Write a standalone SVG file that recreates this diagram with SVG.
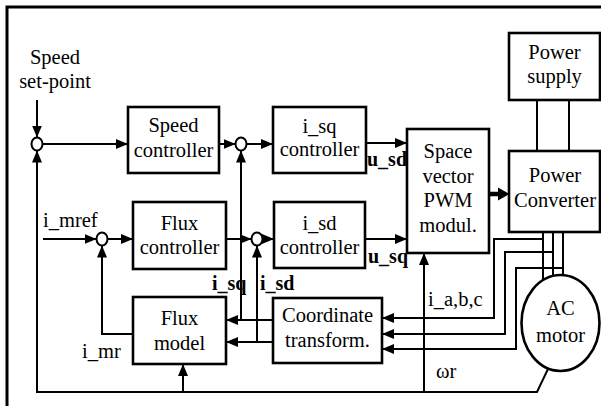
<svg xmlns="http://www.w3.org/2000/svg" width="601" height="406" viewBox="0 0 601 406" font-family="'Liberation Serif', 'Times New Roman', serif">
<defs>
<marker id="ah" viewBox="0 0 12 10" refX="12" refY="5" markerWidth="12" markerHeight="10" markerUnits="userSpaceOnUse" orient="auto">
<path d="M0,0 L12,5 L0,10 Z" fill="#000"/>
</marker>
</defs>
<style>
.box{fill:#fff;stroke:#000;stroke-width:2.6}
.sum{fill:#fff;stroke:#000;stroke-width:2}
.ln{fill:none;stroke:#000;stroke-width:2}
.arr{fill:none;stroke:#000;stroke-width:2;marker-end:url(#ah)}
text{font-family:'Liberation Serif','Times New Roman',serif;font-size:20.5px;fill:#000}
.c{text-anchor:middle}
.b{font-weight:bold;font-size:20px}
</style>
<rect width="601" height="406" fill="#fff"/>
<path d="M7,406 V7 H601" fill="none" stroke="#000" stroke-width="3"/>

<g id="connectors">
<line class="arr" x1="37" y1="100" x2="37" y2="137.5"/>
<line class="arr" x1="42.5" y1="144" x2="128" y2="144"/>
<line class="arr" x1="219" y1="144" x2="235.5" y2="144"/>
<line class="arr" x1="246.5" y1="144" x2="273" y2="144"/>
<line class="arr" x1="366" y1="143" x2="407" y2="143"/>
<line x1="489" y1="194" x2="500" y2="194" stroke="#000" stroke-width="4.5"/>
<path d="M498,187.5 L509.5,194 L498,200.5 Z" fill="#000"/>
<line class="ln" x1="537" y1="100" x2="537" y2="151"/>
<line class="ln" x1="569" y1="100" x2="569" y2="151"/>
<line class="ln" x1="543" y1="232" x2="543" y2="280"/>
<line class="ln" x1="553" y1="232" x2="553" y2="276"/>
<line class="ln" x1="563" y1="232" x2="563" y2="275"/>
<path class="arr" d="M543,239 H494 V318 H382"/>
<path class="arr" d="M553,252 H505 V334 H382"/>
<path class="arr" d="M563,268 H516 V349 H382"/>
<line class="arr" x1="43" y1="239" x2="96.5" y2="239"/>
<line class="arr" x1="107.5" y1="239" x2="133" y2="239"/>
<line class="arr" x1="226" y1="239" x2="251.5" y2="239"/>
<line class="arr" x1="262.5" y1="239" x2="274" y2="239"/>
<line class="arr" x1="365" y1="239" x2="407" y2="239"/>
<line class="arr" x1="273" y1="320" x2="226" y2="320"/>
<line class="arr" x1="241" y1="320" x2="241" y2="150.5"/>
<line class="arr" x1="273" y1="342" x2="226" y2="342"/>
<line class="arr" x1="257" y1="342" x2="257" y2="245.5"/>
<path class="arr" d="M133,334 H102 V245.5"/>
<path class="arr" d="M548,369 L537,392 H37 V150.5"/>
<line class="arr" x1="183" y1="392" x2="183" y2="364"/>
<line class="arr" x1="424" y1="392" x2="424" y2="253"/>
</g>

<g id="sum1"><ellipse class="sum" cx="37" cy="144" rx="5.5" ry="6.5"/></g>
<g id="sum2"><ellipse class="sum" cx="241" cy="144" rx="5.5" ry="6.5"/></g>
<g id="sum3"><ellipse class="sum" cx="102" cy="239" rx="5.5" ry="6.5"/></g>
<g id="sum4"><ellipse class="sum" cx="257" cy="239" rx="5.5" ry="6.5"/></g>

<g id="speed-setpoint">
<text class="c" x="55" y="64">Speed</text>
<text class="c" x="55" y="88">set-point</text>
</g>
<g id="speed-controller">
<rect class="box" x="128" y="107" width="91" height="66"/>
<text class="c" x="173.5" y="132">Speed</text>
<text class="c" x="173.5" y="156.5">controller</text>
</g>
<g id="isq-controller">
<rect class="box" x="273" y="107" width="93" height="66"/>
<text class="c" x="319.5" y="133">i_sq</text>
<text class="c" x="319.5" y="156">controller</text>
</g>
<g id="svpwm">
<rect class="box" x="407" y="129" width="82" height="124"/>
<text class="c" x="448" y="158">Space</text>
<text class="c" x="448" y="183">vector</text>
<text class="c" x="448" y="207">PWM</text>
<text class="c" x="448" y="232">modul.</text>
</g>
<g id="power-supply">
<rect class="box" x="509" y="33" width="91" height="67"/>
<text class="c" x="554.5" y="59">Power</text>
<text class="c" x="554.5" y="83">supply</text>
</g>
<g id="power-converter">
<rect class="box" x="509" y="151" width="91" height="81"/>
<text class="c" x="555" y="182">Power</text>
<text class="c" x="555" y="207">Converter</text>
</g>
<g id="flux-controller">
<rect class="box" x="133" y="202" width="93" height="67"/>
<text class="c" x="179.5" y="230">Flux</text>
<text class="c" x="179.5" y="254">controller</text>
</g>
<g id="isd-controller">
<rect class="box" x="274" y="202" width="91" height="66"/>
<text class="c" x="319.5" y="230">i_sd</text>
<text class="c" x="319.5" y="254">controller</text>
</g>
<g id="flux-model">
<rect class="box" x="133" y="297" width="93" height="67"/>
<text class="c" x="179.5" y="325">Flux</text>
<text class="c" x="179.5" y="350">model</text>
</g>
<g id="coordinate-transform">
<rect class="box" x="273" y="298" width="109" height="65"/>
<text class="c" x="327.5" y="322">Coordinate</text>
<text class="c" x="327.5" y="347">transform.</text>
</g>
<g id="ac-motor">
<ellipse class="box" cx="560.5" cy="323" rx="39" ry="48"/>
<text class="c" x="560.5" y="315">AC</text>
<text class="c" x="560.5" y="342">motor</text>
</g>

<g id="labels">
<text class="b" x="367" y="166">u_sd</text>
<text class="b" x="368" y="263">u_sq</text>
<text class="b" x="212" y="290">i_sq</text>
<text class="b" x="260" y="290">i_sd</text>
<text x="43" y="227">i_mref</text>
<text x="82" y="358">i_mr</text>
<text x="428" y="306">i_a,b,c</text>
<text x="436" y="378">ωr</text>
</g>
</svg>
